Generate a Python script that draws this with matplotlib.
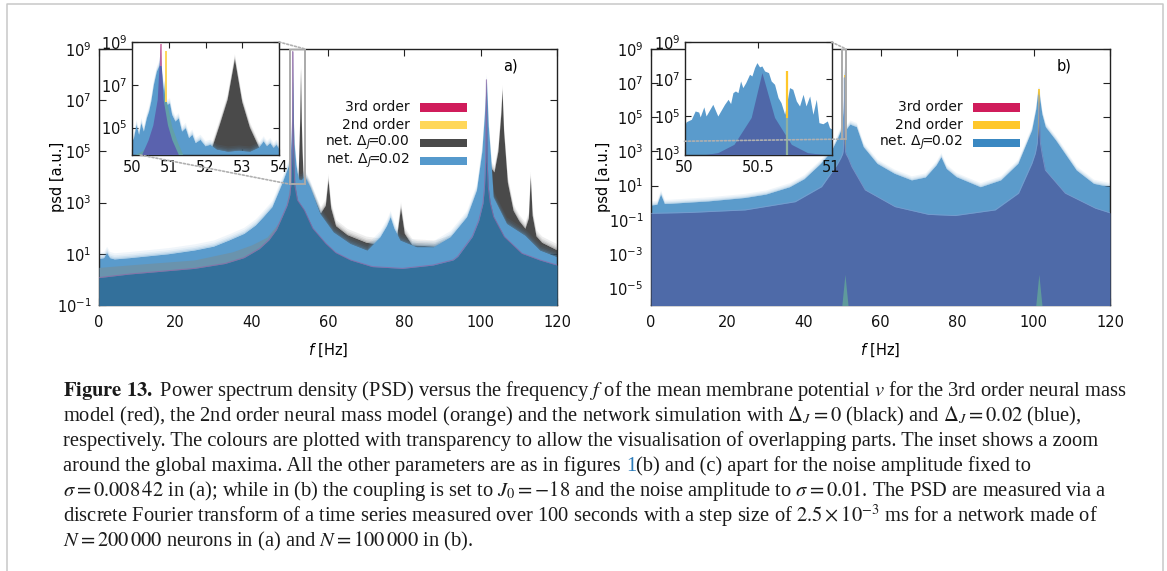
import numpy as np
import matplotlib
matplotlib.use("Agg")
import matplotlib.pyplot as plt
from matplotlib.patches import Rectangle, ConnectionPatch
from matplotlib.lines import Line2D
from matplotlib.ticker import FixedLocator, FuncFormatter, NullLocator

plt.rcParams["font.family"] = ["DejaVu Sans"]
plt.rcParams["mathtext.fontset"] = "dejavusans"
plt.rcParams["font.size"] = 10.5

# ---------------- data (psd given as log10 values) ----------------
# panel a) 3rd order neural mass
f3a = [0, 8, 15, 25, 33, 38, 42, 44.5, 46.5, 48, 49.3, 50.0, 50.27, 50.45, 50.58, 50.7, 50.78,
       50.86, 50.98, 51.1, 51.28, 52.0, 53.8, 56, 59.4, 62, 65.9, 71.6, 79.5, 87.5, 92.8, 94,
       97.8, 99.5, 100.6, 101.0, 101.3, 101.5, 101.7, 102.0, 102.5, 103.4, 106.2, 110.8, 115.5, 120]
l3a = [0.07, 0.21, 0.30, 0.43, 0.62, 0.85, 1.2, 1.54, 1.95, 2.45, 2.9, 3.3, 3.7, 4.4, 5.1, 6.3, 8.9,
       6.3, 5.1, 4.4, 3.7, 3.1, 2.71, 2.0, 1.41, 1.05, 0.76, 0.50, 0.43, 0.56, 0.76, 0.9,
       1.67, 2.3, 2.97, 3.6, 4.6, 7.8, 4.6, 3.6, 3.0, 2.45, 1.67, 1.02, 0.76, 0.56]
# panel a) 2nd order neural mass
f2a = [0, 10, 25, 35, 40, 44, 47, 49, 50.3, 50.5, 50.7, 50.85, 50.91, 50.93, 50.95, 51.1, 51.25,
       51.4, 52.0, 53.8]
l2a = [0.47, 0.59, 0.76, 1.08, 1.35, 1.65, 2.2, 2.8, 3.9, 4.3, 5.0, 6.0, 7.5, 8.6, 6.2, 5.0, 4.3,
       3.7, 3.1, 2.7]
# panel a) network, Delta_J = 0.00
fka = [44, 48, 50, 51, 52.0, 52.17, 52.4, 52.6, 52.8, 53.0, 53.21, 53.48, 54.5, 56, 58, 59.3, 60.0,
       60.7, 62, 65, 70, 75, 78, 79.0, 80, 82, 88, 94, 98, 100, 101, 102, 103.5, 104.5, 105.3,
       105.6, 106, 107, 108.5, 110, 111.6, 112.5, 113.0, 113.5, 114.5, 116, 118, 120]
lka = [1.5, 2.5, 3.5, 4.0, 3.9, 4.0, 5.2, 6.3, 8.2, 6.2, 5.0, 4.0, 3.8, 3.3, 2.6, 2.9, 3.9,
       2.8, 2.1, 1.75, 1.45, 1.35, 1.7, 2.8, 1.8, 1.35, 1.3, 1.6, 2.6, 4.0, 5.0, 4.5, 4.2, 5.0, 6.5,
       7.4, 5.8, 3.8, 2.7, 2.3, 2.0, 2.4, 4.0, 2.5, 1.7, 1.45, 1.3, 1.15]
# panel a) network, Delta_J = 0.02
fba = [0, 1.2, 2.0, 2.8, 4, 8, 12, 18, 25, 30, 34, 38, 41, 43, 45.3, 47.9, 49.0, 50.0, 50.2, 50.35,
       50.5, 50.6, 50.7, 50.75, 50.85, 50.95, 51.1, 51.3, 51.6, 51.9, 52.2, 52.5, 53.0, 53.5, 54.0,
       55.3, 57.9, 61.4, 65.8, 70.2, 73.6, 75.3, 76.3, 77.3, 78.9, 83.2, 87.6, 92, 96.3, 98.9,
       100.3, 101.0, 101.5, 102.0, 102.6, 103.3, 106.8, 111.6, 115.5, 120]
lba = [0.82, 0.85, 1.05, 0.85, 0.8, 0.85, 0.91, 1.0, 1.15, 1.3, 1.54, 1.8, 2.13, 2.45, 2.84, 3.76,
       4.2, 4.6, 5.1, 5.5, 6.3, 7.0, 7.8, 7.4, 6.4, 6.0, 5.3, 5.0, 4.5, 4.2, 4.0, 3.9, 3.9, 4.0, 4.0,
       3.62, 2.58, 1.86, 1.41, 1.15, 1.67, 2.1, 2.45, 2.0, 1.54, 1.28, 1.28, 1.67, 2.45, 3.5,
       5.0, 6.5, 7.8, 6.0, 4.8, 3.23, 2.19, 1.73, 1.15, 0.89]
# same series as seen in the zoomed inset of a)
fba_zoom = [50.0, 50.04, 50.11, 50.18, 50.24, 50.31, 50.39, 50.45, 50.51, 50.58, 50.66, 50.72,
            50.77, 50.81, 50.87, 50.95, 51.02, 51.08, 51.17, 51.26, 51.35, 51.45, 51.54, 51.63,
            51.72, 51.85, 51.99, 52.12, 52.3, 52.6, 52.9, 53.2, 53.45, 53.57, 53.66, 53.75,
            53.84, 53.92, 54.0]
lba_zoom = [4.4, 4.53, 5.15, 4.69, 5.23, 4.84, 5.46, 5.77, 6.24, 7.01, 7.63, 7.87, 7.94, 7.48,
            6.55, 6.08, 6.16, 5.62, 5.31, 5.46, 4.84, 5.0, 4.53, 4.69, 4.3, 4.45, 4.15, 4.22,
            4.0, 3.9, 3.95, 3.9, 4.1, 4.38, 4.15, 4.3, 4.07, 4.22, 4.0]

# panel b) 3rd order neural mass
f3b = [0, 10, 24.6, 37.7, 44.6, 48.6, 49.6, 50.1, 50.23, 50.34, 50.457, 50.53, 50.616, 50.73,
       50.84, 51.0, 51.6, 52.5, 56.0, 63.8, 72.5, 79.5, 90, 96.1, 99.6, 100.5, 101.0, 101.2,
       101.4, 101.6, 101.8, 102.3, 103.1, 108.3, 116.2, 120]
l3b = [-0.63, -0.58, -0.43, 0.05, 0.93, 2.2, 2.6, 2.85, 3.0, 3.45, 4.9, 7.32, 4.9, 3.45,
       3.0, 2.85, 2.6, 2.1, 0.74, -0.24, -0.69, -0.76, -0.43, 0.55, 2.3, 2.9, 3.5, 4.5,
       6.3, 4.5, 3.5, 2.8, 1.9, 0.55, -0.33, -0.6]
# panel b) 2nd order neural mass: narrow lines
f2b_peaks = [50.70, 101.4]
l2b_peaks = [7.45, 6.64]
f2b_notch = [-0.8, 0.0, 0.8]
l2b_notch = [-6.0, -4.2, -6.0]
# panel b) network, Delta_J = 0.02
fbb_low = [0, 1.5, 2.5, 3.5, 5, 15, 24.5, 30, 36.2, 40, 44.3, 47, 48.5, 49.5]
lbb_low = [-0.14, -0.1, 0.5, -0.05, -0.04, 0.1, 0.3, 0.5, 0.93, 1.4, 2.3, 3.0, 3.67, 4.2]
fbb_peak = [50.0, 50.015, 50.05, 50.076, 50.10, 50.11, 50.135, 50.15, 50.196, 50.23, 50.276,
            50.30, 50.317, 50.333, 50.35, 50.367, 50.385, 50.40, 50.42, 50.446, 50.462, 50.48,
            50.496, 50.514, 50.53, 50.548, 50.575, 50.593, 50.616, 50.64, 50.66, 50.685, 50.718,
            50.74, 50.764, 50.786, 50.81, 50.83, 50.855, 50.877, 50.90, 50.918, 50.945, 50.975,
            50.99, 51.0]
lbb_peak = [4.4, 4.67, 4.80, 5.25, 5.19, 4.93, 5.47, 4.98, 5.61, 4.98, 5.61, 5.88, 5.65, 6.24,
            6.33, 6.24, 6.87, 6.51, 6.78, 7.23, 7.14, 7.59, 7.86, 7.63, 7.68, 7.41, 7.32, 6.87,
            6.69, 5.97, 5.70, 5.07, 6.51, 6.42, 5.79, 5.52, 6.15, 5.52, 6.06, 5.07, 5.88, 4.62,
            4.56, 4.71, 4.35, 4.3]
fbb_high = [51.3, 52.0, 53.7, 55.5, 59.1, 63.6, 68.1, 71.7, 74.5, 75.8, 77.2, 79.8, 86.1, 91.4,
            95.9, 99.5, 100.6, 101.1, 101.4, 101.7, 102.2, 103.1, 105.8, 111.2, 115.7, 120]
lbb_high = [4.4, 4.6, 4.45, 3.28, 2.3, 1.72, 1.33, 1.5, 2.2, 2.69, 2.0, 1.52, 0.93, 1.33,
            2.3, 4.25, 5.5, 6.5, 6.6, 6.0, 5.2, 4.45, 3.67, 1.91, 1.13, 0.93]
fbb = fbb_low + fbb_peak + fbb_high
lbb = lbb_low + lbb_peak + lbb_high

labels_a = ["3rd order", "2nd order", r"net. $\mathit{\Delta_J}\!\!=\!\!\mathit{0.00}$",
            r"net. $\mathit{\Delta_J}\!\!=\!\!\mathit{0.02}$"]
colors_a = ["#d01c5b", "#ffd75a", "#4a4a4a", "#5599cc"]
labels_b = ["3rd order", "2nd order", r"net. $\mathit{\Delta_J}\!\!=\!\!\mathit{0.02}$"]
colors_b = ["#d01c5b", "#ffc72a", "#3a88c2"]

caption = [
    r"$\mathbf{Figure\ 13.}$ Power spectrum density (PSD) versus the frequency $f$ of the mean membrane potential $v$ for the 3rd order neural mass",
    r"model (red), the 2nd order neural mass model (orange) and the network simulation with $\Delta_J = 0$ (black) and $\Delta_J = 0.02$ (blue),",
    r"respectively. The colours are plotted with transparency to allow the visualisation of overlapping parts. The inset shows a zoom",
    None,
    r"$\sigma = 0.008\,42$ in (a); while in (b) the coupling is set to $J_0 = -18$ and the noise amplitude to $\sigma = 0.01$. The PSD are measured via a",
    r"discrete Fourier transform of a time series measured over 100 seconds with a step size of $2.5 \times 10^{-3}$ ms for a network made of",
    r"$N = 200\,000$ neurons in (a) and $N = 100\,000$ in (b).",
]
cap4 = ["around the global maxima. All the other parameters are as in figures", "1",
        "(b) and (c) apart for the noise amplitude fixed to"]

# ---------------- figure ----------------
W, H = 1167, 571
fig = plt.figure(figsize=(W / 100, H / 100), dpi=100)


def px_rect(x0, y0, x1, y1):
    return [x0 / W, 1 - y1 / H, (x1 - x0) / W, (y1 - y0) / H]


def ftext(x, y, s, **kw):
    return fig.text(x / W, 1 - y / H, s, **kw)


ax_a = fig.add_axes(px_rect(99, 49, 557, 305))
ax_b = fig.add_axes(px_rect(651, 49, 1110, 305))
in_a = fig.add_axes(px_rect(132, 42, 279, 155))
in_b = fig.add_axes(px_rect(684.5, 42, 831.5, 155))


def fuzzy(ax, f, lg, color, base, z, fringe=True):
    # solid fill plus a soft fading fringe for the noisy upper edge
    f = np.asarray(f, float)
    lg = np.asarray(lg, float)
    ax.fill_between(f, base, 10 ** lg, color=color, lw=0, zorder=z)
    if fringe:
        lo = lg
        for d, a in [(0.05, 0.45), (0.1, 0.3), (0.16, 0.18), (0.24, 0.09)]:
            ax.fill_between(f, 10 ** lo, 10 ** (lg + d), color=color, alpha=a, lw=0, zorder=z)
            lo = lg + d


def style(ax, xt, yt, xlim, ylim, xpad, ypad, ticklen, xfmt="%g"):
    ax.set_yscale("log")
    ax.set_xlim(xlim)
    ax.set_ylim(ylim)
    ax.xaxis.set_major_locator(FixedLocator(xt))
    ax.yaxis.set_major_locator(FixedLocator(yt))
    ax.xaxis.set_minor_locator(NullLocator())
    ax.yaxis.set_minor_locator(NullLocator())
    ax.xaxis.set_major_formatter(FuncFormatter(lambda v, p: xfmt % v))
    ax.yaxis.set_major_formatter(FuncFormatter(lambda v, p: r"$10^{%d}$" % int(round(np.log10(v)))))
    ax.tick_params(which="both", direction="in", top=True, right=True, length=ticklen,
                   width=0.8, color="#222222", labelcolor="#111111", labelsize=10.5)
    ax.tick_params(axis="x", pad=xpad)
    ax.tick_params(axis="y", pad=ypad)
    for s in ax.spines.values():
        s.set_color("#222222")
        s.set_linewidth(1.0)


# --- panel a
fuzzy(ax_a, fka, lka, "#4a4a4a", 1e-2, 1)
fuzzy(ax_a, fba, lba, "#5a9bcc", 1e-2, 2)
fuzzy(ax_a, f2a, l2a, "#6a93ad", 1e-2, 3, fringe=False)
fuzzy(ax_a, f3a, l3a, "#33709b", 1e-2, 4, fringe=False)
ax_a.plot(f3a, 10 ** np.array(l3a), color="#8d68a6", lw=0.7, alpha=0.8, zorder=5)
style(ax_a, [0, 20, 40, 60, 80, 100, 120], [10.0 ** k for k in (-1, 1, 3, 5, 7, 9)],
      (0, 120), (1e-1, 1e9), 7, 5.5, 5)

fuzzy(in_a, fka, lka, "#4a4a4a", 1e3, 1)
fuzzy(in_a, fba_zoom, lba_zoom, "#5a9bcc", 1e3, 2)
fuzzy(in_a, f2a, l2a, "#62a0a8", 1e3, 3, fringe=False)
fuzzy(in_a, f3a, l3a, "#5a62ae", 1e3, 4, fringe=False)
in_a.vlines(f2a[l2a.index(max(l2a))], 10 ** 6.2, 10 ** max(l2a), color="#ffd75a", lw=1.4, zorder=5)
in_a.vlines(f3a[l3a.index(max(l3a))], 10 ** 7.9, 10 ** max(l3a), color="#d06aa0", lw=1.1, zorder=5)
style(in_a, [50, 51, 52, 53, 54], [1e5, 1e7, 1e9], (50, 54), (10 ** 3.72, 1e9), 3.5, 3, 4)

# --- panel b
fuzzy(ax_b, fbb, lbb, "#5b9bcb", 1e-7, 2)
ax_b.vlines(f2b_peaks, 1e-7, 10 ** np.array(l2b_peaks), color="#ffc72a", lw=1.2, zorder=3)
fuzzy(ax_b, f3b, l3b, "#4e6aa8", 1e-7, 4, fringe=False)
ax_b.plot(f3b, 10 ** np.array(l3b), color="#7f9ccf", lw=0.6, alpha=0.8, zorder=5)
for fp in f2b_peaks:
    ax_b.fill_between(fp + np.array(f2b_notch), 1e-7, 10 ** np.array(l2b_notch),
                      color="#5f9a9c", lw=0, zorder=5)
style(ax_b, [0, 20, 40, 60, 80, 100, 120], [10.0 ** k for k in (-5, -3, -1, 1, 3, 5, 7, 9)],
      (0, 120), (1e-6, 1e9), 7, 5.5, 5)

fuzzy(in_b, fbb, lbb, "#5a9bcc", 1e2, 2, fringe=False)
fuzzy(in_b, f3b, l3b, "#4f67a8", 1e2, 4, fringe=False)
in_b.vlines(f2b_peaks[0], 10 ** 4.9, 10 ** l2b_peaks[0], color="#ffc72a", lw=1.6, zorder=5)
in_b.vlines(f2b_peaks[0], 1e2, 10 ** 4.9, color="#8fb0a0", lw=1.6, zorder=5)
style(in_b, [50, 50.5, 51], [1e3, 1e5, 1e7, 1e9], (50, 51), (10 ** 2.9, 1e9), 3.5, 3, 4)

# zoom boxes and connectors
for ax, inset, x0, x1, lowA in [(ax_a, in_a, 50, 54, (0.056, 0.0)), (ax_b, in_b, 50, 51, (0.0, 0.122))]:
    ax.add_patch(Rectangle((x0, 10 ** 3.72), x1 - x0, 1e9 - 10 ** 3.72, fill=False,
                           edgecolor="#aaaaaa", lw=1.4, zorder=10))
    for xyA, xyB in [((1, 1), (x1, 1e9)), (lowA, (x0, 10 ** 3.72))]:
        con = ConnectionPatch(xyA=xyA, coordsA=inset.transAxes, xyB=xyB, coordsB=ax.transData,
                              color="#b0b0b0", lw=1.2, linestyle=(0, (1.2, 1.2)), zorder=20)
        fig.add_artist(con)

# legends
for labels, colors, xr in [(labels_a, colors_a, 409.6), (labels_b, colors_b, 962.8)]:
    for i, (lab, c) in enumerate(zip(labels, colors)):
        y = 107.3 + 17.9 * i
        ftext(xr, y, lab, ha="right", va="center", fontsize=10, color="#111111")
        fig.add_artist(Rectangle(((xr + 10) / W, 1 - (y + 4.2) / H), 47.2 / W, 8.4 / H,
                                 transform=fig.transFigure, color=c, lw=0))

# axis labels and panel tags
for xc, xl in [(57.9, 328), (603.5, 880.5)]:
    ftext(xc, 177, "psd [a.u.]", rotation=90, ha="center", va="center", fontsize=10.5)
    ftext(xl, 350, r"$\mathit{f}$ [Hz]", ha="center", va="center", fontsize=10.5)
ftext(510.7, 66, "a)", ha="center", va="center", fontsize=10.5)
ftext(1063.8, 66, "b)", ha="center", va="center", fontsize=10.5)

# page frame
fig.add_artist(Line2D([7 / W, 7 / W, 1163 / W, 1163 / W], [0, 1 - 4 / H, 1 - 4 / H, 0],
                      transform=fig.transFigure, color="#c8c8c8", lw=1.1))

# caption
cap_kw = dict(family="Liberation Serif", math_fontfamily="stix", color="#1a1a1a",
              va="baseline", ha="left")
fig.canvas.draw()
rend = fig.canvas.get_renderer()
probe = ftext(63, 396, caption[0], fontsize=12, **cap_kw)
size = 12 * 1065 / probe.get_window_extent(rend).width
probe.remove()
x0 = 63
for i, line in enumerate(caption):
    y = 396 + 25.1 * i
    if line is not None:
        ftext(x0, y, line, fontsize=size, **cap_kw)
    else:
        pre = ftext(x0, y, cap4[0] + " " + cap4[1], fontsize=size, **cap_kw)
        one = ftext(x0, y, cap4[1], fontsize=size, **cap_kw)
        w_pre = pre.get_window_extent(rend).width
        w_one = one.get_window_extent(rend).width
        pre.remove()
        one.remove()
        x1 = x0 + (w_pre - w_one)
        ftext(x0, y, cap4[0], fontsize=size, **cap_kw)
        ftext(x1, y, cap4[1], fontsize=size, **dict(cap_kw, color="#2a7ab8"))
        ftext(x1 + w_one, y, cap4[2], fontsize=size, **cap_kw)

fig.savefig("out.png", dpi=100)
